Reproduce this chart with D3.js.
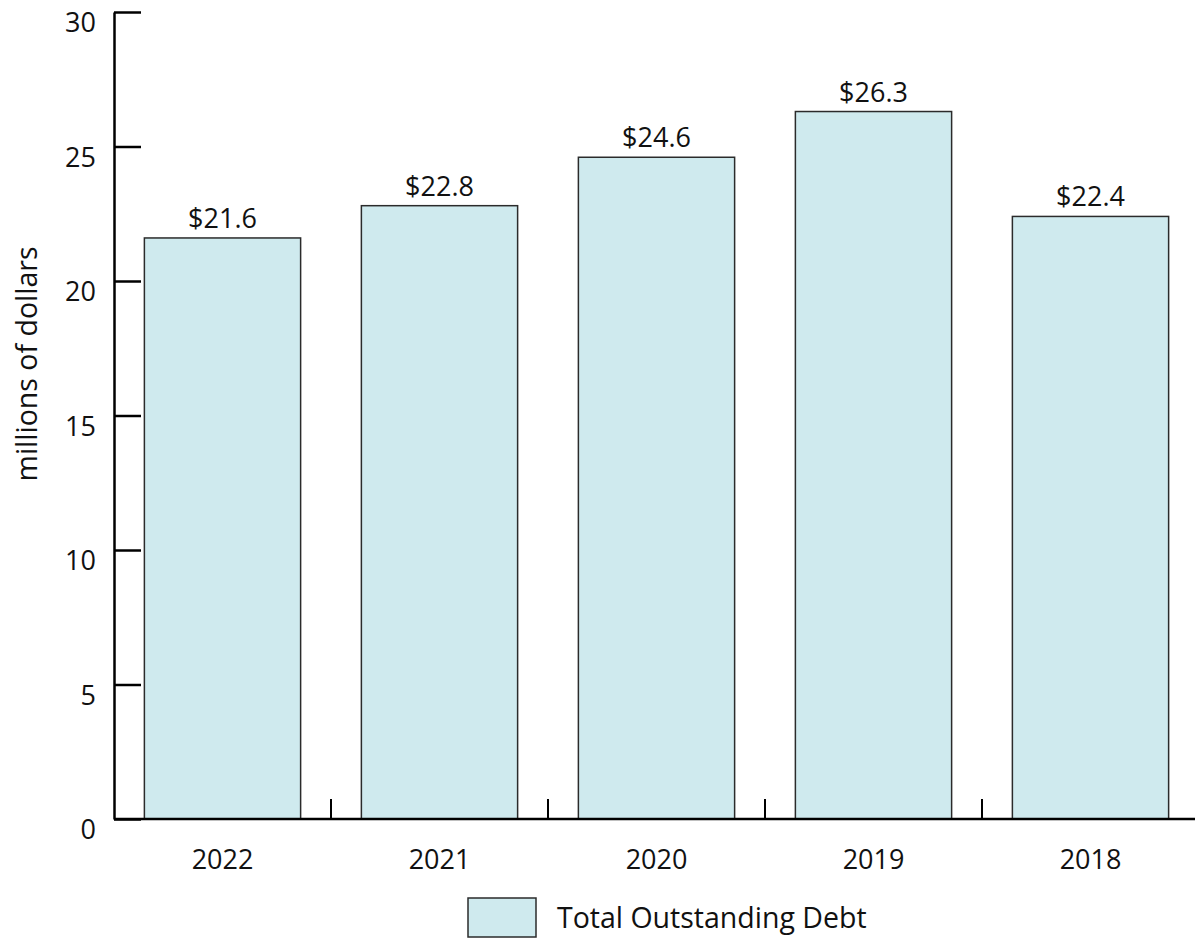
<!DOCTYPE html>
<html>
<head>
<meta charset="utf-8">
<script src="https://cdn.jsdelivr.net/npm/d3@7"></script>
<style>
  html, body { margin: 0; padding: 0; background: #fff; }
  svg { display: block; }
  text { font-family: "Open Sans", "Noto Sans", sans-serif; fill: #111; }
</style>
</head>
<body>
<svg id="chart" width="1195" height="938"></svg>
<script>
// Total outstanding debt by fiscal year, in millions of dollars
const years = ["2022", "2021", "2020", "2019", "2018"];
const debt = [21.6, 22.8, 24.6, 26.3, 22.4];
const valueLabels = ["$21.6", "$22.8", "$24.6", "$26.3", "$22.4"];
const yTicks = [0, 5, 10, 15, 20, 25, 30];
const seriesName = "Total Outstanding Debt";
const yTitle = "millions of dollars";

const W = 1195, H = 938;
const plotLeft = 114, plotRight = 1199, plotTop = 12, plotBottom = 819;
const fontSize = 27;
const wordSize = 28.5;
const barFill = "#cfeaee";
const barStroke = "#2b2b2b";

const svg = d3.select("#chart");

const x = d3.scaleBand()
  .domain(years)
  .range([plotLeft, plotRight])
  .paddingInner(0.28)
  .paddingOuter(0.14);

const y = d3.scaleLinear().domain([0, 30]).range([plotBottom, plotTop]);

// bars
svg.append("g").selectAll("rect")
  .data(years)
  .join("rect")
  .attr("x", d => x(d))
  .attr("y", (d, i) => y(debt[i]))
  .attr("width", x.bandwidth())
  .attr("height", (d, i) => y(0) - y(debt[i]))
  .attr("fill", barFill)
  .attr("stroke", barStroke)
  .attr("stroke-width", 1.5);

// value labels above bars
svg.append("g").selectAll("text")
  .data(years)
  .join("text")
  .attr("x", d => x(d) + x.bandwidth() / 2)
  .attr("y", (d, i) => y(debt[i]) - 10)
  .attr("text-anchor", "middle")
  .style("font-size", fontSize + "px")
  .text((d, i) => valueLabels[i]);

// y axis: ticks point inward, labels sit just below each tick
const yAxis = svg.append("g")
  .attr("transform", `translate(${plotLeft},0)`)
  .call(d3.axisLeft(y).tickValues(yTicks).tickFormat(d3.format("d"))
    .tickSizeInner(-27).tickSizeOuter(0).tickPadding(18));
yAxis.select(".domain").attr("stroke", "#000").attr("stroke-width", 2.5);
yAxis.selectAll(".tick line").attr("stroke", "#000").attr("stroke-width", 2.5);
yAxis.selectAll(".tick text")
  .attr("dy", "0.73em")
  .style("font-size", fontSize + "px")
  .style("font-family", "'Open Sans', 'Noto Sans', sans-serif")
  .attr("fill", "#111");

// x axis: category labels at band centres
const xAxis = svg.append("g")
  .attr("transform", `translate(0,${plotBottom})`)
  .call(d3.axisBottom(x).tickSize(0).tickPadding(31));
xAxis.select(".domain").remove();
xAxis.selectAll(".tick text")
  .style("font-size", fontSize + "px")
  .style("font-family", "'Open Sans', 'Noto Sans', sans-serif")
  .attr("fill", "#111");

// baseline
svg.append("line")
  .attr("x1", plotLeft).attr("x2", W)
  .attr("y1", plotBottom).attr("y2", plotBottom)
  .attr("stroke", "#000").attr("stroke-width", 2.5);

// separators between categories, pointing up from the baseline
const step = x.step();
svg.append("g").selectAll("line")
  .data(years.slice(1))
  .join("line")
  .attr("x1", d => x(d) - x.paddingInner() * step / 2)
  .attr("x2", d => x(d) - x.paddingInner() * step / 2)
  .attr("y1", plotBottom)
  .attr("y2", plotBottom - 20)
  .attr("stroke", "#000").attr("stroke-width", 2);

// y axis title
svg.append("text")
  .attr("transform", `translate(37,364) rotate(-90)`)
  .attr("text-anchor", "middle")
  .style("font-size", wordSize + "px")
  .text(yTitle);

// legend
const legend = svg.append("g");
legend.append("rect")
  .attr("x", 468).attr("y", 898)
  .attr("width", 68).attr("height", 39)
  .attr("fill", barFill)
  .attr("stroke", barStroke).attr("stroke-width", 1.5);
legend.append("text")
  .attr("x", 557).attr("y", 928)
  .style("font-size", wordSize + "px")
  .text(seriesName);
</script>
</body>
</html>
